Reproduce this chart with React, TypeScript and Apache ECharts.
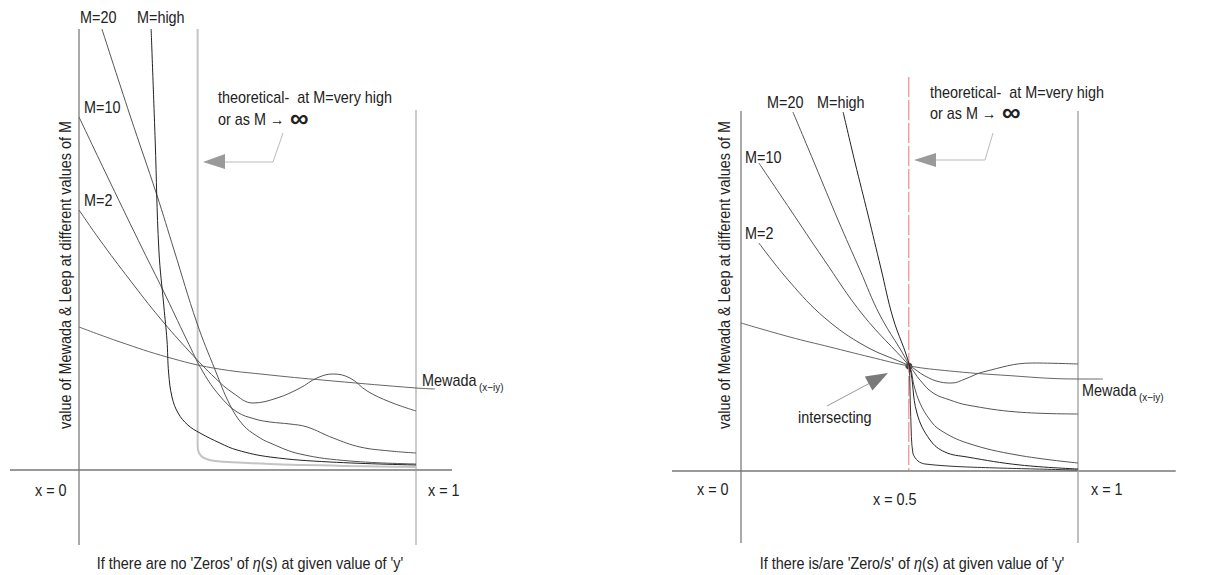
import { useEffect, useRef } from "react";
import * as echarts from "echarts";

// ---------- data (x in units of the x-range 0..1, y in arbitrary value units) ----------
// Left panel: no zeros
const leftM2 = [[0, 2.6], [0.062, 2.3], [0.151, 1.9], [0.24, 1.52], [0.329, 1.18], [0.404, 0.92], [0.457, 0.77], [0.516, 0.67], [0.588, 0.72], [0.656, 0.82], [0.706, 0.92], [0.754, 0.96], [0.804, 0.92], [0.855, 0.79], [0.923, 0.68], [1, 0.59]];
const leftM10 = [[0, 3.53], [0.092, 2.88], [0.19, 2.2], [0.249, 1.8], [0.32, 1.3], [0.368, 0.98], [0.418, 0.74], [0.469, 0.58], [0.522, 0.51], [0.567, 0.48], [0.626, 0.46], [0.677, 0.43], [0.754, 0.32], [0.834, 0.23], [0.923, 0.19], [1, 0.17]];
const leftM20 = [[0.068, 4.41], [0.151, 3.55], [0.231, 2.75], [0.282, 2.2], [0.35, 1.47], [0.404, 1.0], [0.448, 0.65], [0.487, 0.45], [0.528, 0.34], [0.567, 0.27], [0.656, 0.16], [0.804, 0.09], [1, 0.06]];
const leftMHigh = [[0.214, 4.41], [0.226, 3.3], [0.237, 2.2], [0.252, 1.63], [0.261, 1.3], [0.266, 0.97], [0.276, 0.73], [0.294, 0.57], [0.323, 0.45], [0.359, 0.37], [0.418, 0.27], [0.469, 0.2], [0.567, 0.13], [0.745, 0.08], [1, 0.05]];
const leftMewada = [[0, 1.43], [0.122, 1.28], [0.261, 1.13], [0.398, 1.02], [0.567, 0.95], [0.754, 0.89], [1, 0.82], [1.056, 0.81]];
const leftTheoretical = [[0.352, 4.41], [0.352, 0.25], [0.356, 0.17], [0.371, 0.12], [0.404, 0.09], [0.567, 0.06], [0.804, 0.04], [1, 0.03]];

// Right panel: zeros exist (curves intersect at x = 0.5)
const rightM2 = [[0.053, 2.28], [0.145, 1.89], [0.249, 1.53], [0.368, 1.25], [0.5, 1.05], [0.546, 0.95], [0.591, 0.89], [0.626, 0.88], [0.665, 0.92], [0.718, 0.99], [0.866, 1.08], [1, 1.07]];
const rightM10 = [[0.053, 3.08], [0.145, 2.62], [0.243, 2.13], [0.362, 1.56], [0.5, 1.05], [0.531, 0.91], [0.57, 0.78], [0.62, 0.71], [0.671, 0.66], [0.819, 0.59], [1, 0.57]];
const rightM20 = [[0.154, 3.59], [0.22, 3.06], [0.288, 2.51], [0.353, 2.01], [0.412, 1.56], [0.5, 1.05], [0.513, 0.86], [0.531, 0.68], [0.561, 0.51], [0.591, 0.41], [0.671, 0.28], [0.819, 0.16], [1, 0.08]];
const rightMHigh = [[0.303, 3.59], [0.338, 3.09], [0.377, 2.56], [0.415, 2.03], [0.451, 1.53], [0.5, 1.05], [0.522, 0.58], [0.561, 0.31], [0.605, 0.19], [0.671, 0.14], [0.828, 0.06], [1, 0.02]];
const rightMewada = [[0, 1.48], [0.145, 1.34], [0.264, 1.24], [0.383, 1.14], [0.5, 1.05], [0.62, 1.0], [0.769, 0.96], [1, 0.92], [1.074, 0.92]];
const rightTheoretical = [[0.5, 1.05], [0.504, 0.51], [0.51, 0.18], [0.525, 0.1], [0.546, 0.07], [0.671, 0.04], [1, 0.01]];
const intersection = [[0.498, 1.05]];

// axis / reference lines
const leftYAxis = [[0, 4.41], [0, -0.75]];
const leftXAxis = [[-0.205, 0], [1.107, 0]];
const leftX1 = [[1, 3.6], [1, -0.75]];
const rightYAxis = [[0, 3.6], [0, -0.72]];
const rightXAxis = [[-0.208, 0], [1.29, 0]];
const rightX1 = [[1, 3.6], [1, -0.72]];
const rightHalf = [[0.498, 3.94], [0.498, 0]];

// texts
const curveLabels = ["M=20", "M=high", "M=10", "M=2"];
const xLabelsLeft = ["x = 0", "x = 1"];
const xLabelsRight = ["x = 0", "x = 0.5", "x = 1"];
const yName = "value of Mewada & Leep at different values of M";
const captionLeft = "If there are no 'Zeros' of {i|η}(s) at given value of 'y'";
const captionRight = "If there is/are 'Zero/s' of {i|η}(s) at given value of 'y'";
const noteLine1 = "theoretical-  at M=very high";
const noteLine2 = "or as M →";

const FONT = "'Liberation Sans', Arial, Helvetica, sans-serif";

function txt(text: string, x: number, y: number, o: any = {}) {
  return {
    type: "text",
    x,
    y,
    scaleX: o.scaleX ?? 0.9,
    rotation: o.rotation ?? 0,
    silent: true,
    style: {
      text,
      fontSize: o.size ?? 16,
      fontFamily: FONT,
      fontWeight: o.weight ?? "normal",
      fill: o.fill ?? "#222",
      align: o.align ?? "left",
      textAlign: o.align ?? "left",
      verticalAlign: "middle",
      textVerticalAlign: "middle",
      rich: o.rich,
    },
  };
}

function line(data: number[][], grid: number, color: string, width = 1, smooth: number | boolean = 0.4, type: any = "solid") {
  return {
    type: "line",
    xAxisIndex: grid,
    yAxisIndex: grid,
    data,
    smooth,
    symbol: "none",
    showSymbol: false,
    silent: true,
    color,
    itemStyle: { color },
    lineStyle: { color, width, type },
  };
}

export default function App() {
  const ref = useRef<HTMLDivElement>(null);
  useEffect(() => {
    const chart = echarts.init(ref.current!, undefined, { renderer: "svg" });
    const richI = { i: { fontStyle: "italic", fontSize: 16, fontFamily: FONT, fill: "#222" } };
    const option: any = {
      animation: false,
      backgroundColor: "#ffffff",
      grid: [
        { left: 79 - 0.2 * 337, top: 20, width: 1.4 * 337, height: 530 },
        { left: 741 - 0.2 * 337, top: 21, width: 1.5 * 337, height: 530 },
      ],
      xAxis: [
        { type: "value", gridIndex: 0, min: -0.2, max: 1.2, show: false },
        { type: "value", gridIndex: 1, min: -0.2, max: 1.3, show: false },
      ],
      yAxis: [
        { type: "value", gridIndex: 0, min: -0.8, max: 4.5, show: false },
        { type: "value", gridIndex: 1, min: -0.8, max: 4.5, show: false },
      ],
      series: [
        // left axes
        line(leftYAxis, 0, "#555", 1, false),
        line(leftXAxis, 0, "#777", 1.5, false),
        line(leftX1, 0, "#999", 1, false),
        line(leftTheoretical, 0, "#c4c4c4", 2, 0.3),
        line(leftMewada, 0, "#666", 1),
        line(leftM2, 0, "#555", 1),
        line(leftM10, 0, "#555", 1),
        line(leftM20, 0, "#555", 1),
        line(leftMHigh, 0, "#222", 1),
        // right axes
        line(rightYAxis, 1, "#555", 1, false),
        line(rightXAxis, 1, "#777", 1.5, false),
        line(rightX1, 1, "#aaa", 1.5, false),
        line(rightHalf, 1, "#ee7070", 1, false, [20, 3]),
        line(rightMewada, 1, "#666", 1),
        line(rightM2, 1, "#555", 1),
        line(rightM10, 1, "#555", 1),
        line(rightM20, 1, "#555", 1),
        line(rightMHigh, 1, "#222", 1),
        line(rightTheoretical, 1, "#333", 1, 0.3),
        {
          type: "scatter",
          xAxisIndex: 1,
          yAxisIndex: 1,
          data: intersection,
          symbolSize: 7,
          itemStyle: { color: "#111" },
          silent: true,
        },
      ],
      graphic: [
        // left labels
        txt(curveLabels[0], 80, 17),
        txt(curveLabels[1], 137, 17),
        txt(curveLabels[2], 84, 107),
        txt(curveLabels[3], 84, 200),
        txt(noteLine1, 218, 97),
        txt(noteLine2, 218, 119),
        txt("∞", 290, 118, { size: 26, weight: "bold", scaleX: 1 }),
        { type: "polyline", silent: true, shape: { points: [[283, 133], [273, 162], [224, 162]] }, style: { stroke: "#bbb", lineWidth: 1, fill: null } },
        { type: "polygon", silent: true, shape: { points: [[203, 162], [225, 154], [225, 169]] }, style: { fill: "#9a9a9a" } },
        txt(xLabelsLeft[0], 35, 490),
        txt(xLabelsLeft[1], 428, 490),
        txt("Mewada", 422, 380),
        txt("(x−iy)", 479, 387, { size: 11 }),
        txt(yName, 65, 275, { rotation: Math.PI / 2, align: "center" }),
        txt(captionLeft, 250, 563, { align: "center", rich: richI }),
        // right labels
        txt(curveLabels[0], 767, 102),
        txt(curveLabels[1], 817, 102),
        txt(curveLabels[2], 745, 157),
        txt(curveLabels[3], 745, 233),
        txt(noteLine1, 930, 92),
        txt(noteLine2, 930, 113),
        txt("∞", 1002, 112, { size: 26, weight: "bold", scaleX: 1 }),
        { type: "polyline", silent: true, shape: { points: [[993, 133], [985, 160], [935, 160]] }, style: { stroke: "#bbb", lineWidth: 1, fill: null } },
        { type: "polygon", silent: true, shape: { points: [[914, 160], [936, 153], [936, 167]] }, style: { fill: "#9a9a9a" } },
        { type: "line", silent: true, shape: { x1: 827, y1: 406, x2: 870, y2: 383 }, style: { stroke: "#999", lineWidth: 1 } },
        { type: "polygon", silent: true, shape: { points: [[888, 373], [864.8, 376.5], [872.4, 390.5]] }, style: { fill: "#7a7a7a" } },
        txt("intersecting", 798, 417),
        txt(xLabelsRight[0], 697, 489),
        txt(xLabelsRight[1], 873, 499),
        txt(xLabelsRight[2], 1091, 489),
        txt("Mewada", 1082, 390),
        txt("(x−iy)", 1139, 397, { size: 11 }),
        txt(yName, 724, 275, { rotation: Math.PI / 2, align: "center" }),
        txt(captionRight, 912, 563, { align: "center", rich: richI }),
      ],
    };
    chart.setOption(option);
    return () => chart.dispose();
  }, []);
  return (
    <div
      ref={ref}
      style={{ position: "absolute", left: 0, top: 0, width: 1210, height: 575, background: "#fff" }}
    />
  );
}
